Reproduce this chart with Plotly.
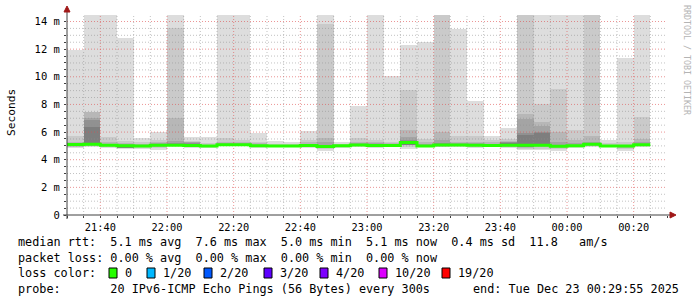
import numpy as np
import pandas as pd
import plotly.graph_objects as go

# ---------------- data ----------------
bin_start = pd.date_range("2025-12-22 21:30:00", periods=35, freq="5min")
bin_ms = 300000

rtt_max = [11.95, 15.2, 15.6, 12.83, 5.55, 5.98, 15.4, 5.62, 5.64, 15.8, 15.1, 5.96, 5.38, 5.28, 6.08,
           16.2, 5.26, 7.89, 15.3, 10.06, 12.30, 12.52, 16.0, 13.48, 8.25, 5.74, 6.30, 16.4, 15.2, 15.5,
           15.0, 16.8, 5.45, 11.35, 15.3]
rtt_hi2 = [5.72, 7.48, 5.62, 5.35, 5.25, 5.45, 13.55, 5.35, 5.20, 5.60, 5.45, 5.30, 5.15, 5.15, 5.40,
           13.82, 5.15, 5.60, 5.45, 5.30, 9.04, 5.50, 15.5, 5.72, 5.70, 5.40, 5.48, 16.0, 8.00, 9.10,
           6.15, 15.8, 5.20, 5.25, 7.08]
rtt_hi3 = [5.25, 7.45, 5.25, 5.20, 5.15, 5.25, 7.04, 5.30, 5.10, 5.30, 5.25, 5.20, 5.10, 5.10, 5.25,
           5.60, 5.10, 5.30, 5.30, 5.20, 6.15, 5.25, 5.98, 5.25, 5.30, 5.25, 5.35, 7.28, 6.70, 6.03,
           5.40, 5.72, 5.10, 5.10, 5.50]
rtt_hi4 = [5.20, 7.00, 5.15, 5.15, 5.10, 5.20, 5.35, 5.25, 5.05, 5.20, 5.20, 5.10, 5.05, 5.05, 5.15,
           5.30, 5.05, 5.20, 5.20, 5.10, 5.67, 5.15, 5.40, 5.20, 5.20, 5.15, 5.30, 6.95, 6.44, 5.30,
           5.20, 5.30, 5.05, 5.05, 5.25]
rtt_hi5 = [5.15, 6.90, 5.10, 5.10, 5.05, 5.10, 5.20, 5.20, 5.02, 5.15, 5.15, 5.05, 5.02, 5.02, 5.10,
           5.10, 5.03, 5.10, 5.10, 5.05, 5.45, 5.05, 5.20, 5.10, 5.10, 5.10, 5.25, 5.91, 6.03, 5.10,
           5.10, 5.20, 5.02, 5.02, 5.15]
rtt_hi6 = [5.12, 6.40, 5.06, 5.03, 5.02, 5.07, 5.06, 5.04, 5.01, 5.10, 5.10, 5.03, 5.02, 5.02, 5.05,
           4.97, 5.03, 5.08, 5.04, 5.04, 5.35, 5.02, 5.09, 5.08, 5.07, 5.04, 5.22, 5.79, 5.91, 4.99,
           5.03, 5.13, 5.02, 5.01, 5.11]
rtt_min = [4.83, 4.95, 4.85, 4.78, 4.75, 4.70, 4.98, 4.88, 4.85, 4.97, 4.97, 4.85, 4.92, 4.92, 4.88,
           4.63, 4.88, 4.92, 4.82, 4.90, 4.75, 4.90, 4.92, 4.93, 4.88, 4.90, 4.85, 4.68, 4.72, 4.63,
           4.88, 4.95, 4.90, 4.63, 4.95]
rtt_lo2 = [4.90, 5.00, 4.92, 4.85, 4.85, 4.82, 5.00, 4.92, 4.90, 5.00, 5.00, 4.90, 4.95, 4.95, 4.92,
           4.75, 4.93, 4.96, 4.90, 4.93, 4.95, 4.93, 4.95, 4.96, 4.92, 4.93, 4.92, 4.80, 4.80, 4.75,
           4.92, 4.98, 4.93, 4.75, 4.98]
rtt_lo3 = [4.95, 5.02, 4.96, 4.88, 4.90, 4.90, 5.00, 4.95, 4.93, 5.02, 5.02, 4.94, 4.96, 4.96, 4.96,
           4.82, 4.96, 5.00, 4.95, 4.96, 5.05, 4.96, 4.98, 5.00, 4.97, 4.96, 4.95, 4.88, 4.90, 4.85,
           4.95, 5.02, 4.96, 4.85, 5.02]
rtt_lo_inner = [5.05, 5.05, 5.00, 4.90, 4.96, 5.00, 5.00, 4.98, 4.96, 5.04, 5.04, 4.98, 4.97, 4.97, 5.00,
                4.88, 4.98, 5.02, 4.98, 4.98, 5.08, 4.97, 5.03, 5.02, 5.01, 4.98, 4.96, 4.95, 4.98, 4.92,
                4.97, 5.07, 4.97, 4.93, 5.05]
median_rtt = [5.10, 5.12, 5.04, 5.01, 5.00, 5.05, 5.04, 5.02, 4.99, 5.08, 5.08, 5.01, 5.00, 5.00, 5.03,
              4.95, 5.01, 5.06, 5.02, 5.02, 5.24, 5.00, 5.07, 5.06, 5.05, 5.02, 5.05, 5.05, 5.04, 4.97,
              5.01, 5.11, 5.00, 4.99, 5.09]

y_tickvals = [0, 2, 4, 6, 8, 10, 12, 14]
y_ticktext = ["0", "2 m", "4 m", "6 m", "8 m", "10 m", "12 m", "14 m"]

stats_rtt = "median rtt:  5.1 ms avg  7.6 ms max  5.0 ms min  5.1 ms now  0.4 ms sd  11.8   am/s"
stats_loss = "packet loss: 0.00 % avg  0.00 % max  0.00 % min  0.00 % now"
loss_labels = ["0", "1/20", "2/20", "3/20", "4/20", "10/20", "19/20"]
loss_colors = ["#26ff00", "#00b8ff", "#0059ff", "#5e00ff", "#7e00ff", "#dd00ff", "#ff0000"]
probe_text = "probe:       20 IPv6-ICMP Echo Pings (56 Bytes) every 300s"
end_text = "end: Tue Dec 23 00:29:55 2025"

# ---------------- geometry / style ----------------
W, H = 697, 297
L, R, T, B = 67, 30, 15, 82
PW, PH = W - L - R, H - T - B
Y_TOP = 14.47
x_lo = pd.Timestamp("2025-12-22 21:30:00")
x_hi = pd.Timestamp("2025-12-23 00:30:00")
MONO = "DejaVu Sans Mono"
band_colors = ["#dddddd", "#cacaca", "#b7b7b7", "#a4a4a4", "#919191", "#7e7e7e"]


def px(x):
    return (x - L) / PW


def py(y):
    return (T + PH - y) / PH


centers = bin_start + pd.Timedelta(seconds=150)
fig = go.Figure()

bands = [
    (rtt_min, rtt_max), (rtt_lo2, rtt_hi2), (rtt_lo3, rtt_hi3),
    (rtt_lo_inner, rtt_hi4), (rtt_lo_inner, rtt_hi5), (rtt_lo_inner, rtt_hi6),
]
for (lo, hi), col in zip(bands, band_colors):
    fig.add_trace(go.Bar(
        x=centers, base=lo, y=[h - l for l, h in zip(lo, hi)], width=bin_ms,
        marker=dict(color=col, line=dict(width=0)), hoverinfo="skip", showlegend=False,
    ))

# grid lines (drawn above the smoke, below the median line)
minor_col = "rgba(143,143,143,0.55)"
major_col = "rgba(222,79,79,0.6)"
vt = pd.date_range(x_lo + pd.Timedelta(minutes=5), x_hi - pd.Timedelta(minutes=5), freq="5min")
for is_major, col in [(False, minor_col), (True, major_col)]:
    xs, ys = [], []
    for t in vt:
        if (t.minute % 20 == 0) == is_major:
            xs += [t, t, None]
            ys += [0, Y_TOP, None]
    fig.add_trace(go.Scatter(x=xs, y=ys, mode="lines", hoverinfo="skip", showlegend=False,
                             line=dict(color=col, width=1, dash="1px,2px")))
hv = np.arange(0.5, 14.01, 0.5)
for is_major, col in [(False, minor_col), (True, major_col)]:
    xs, ys = [], []
    for v in hv:
        if (abs(v % 2) < 1e-9) == is_major:
            xs += [x_lo, x_hi, None]
            ys += [v, v, None]
    fig.add_trace(go.Scatter(x=xs, y=ys, mode="lines", hoverinfo="skip", showlegend=False,
                             line=dict(color=col, width=1, dash="1px,2px")))

# median line
mx = list(bin_start) + [bin_start[-1] + pd.Timedelta(minutes=5)]
my = list(median_rtt) + [median_rtt[-1]]
fig.add_trace(go.Scatter(x=mx, y=my, mode="lines", hoverinfo="skip", showlegend=False,
                         line=dict(color=loss_colors[0], width=3, shape="hv")))

axis_col = "#404040"
arrow_col = "#a01818"
shapes = [
    dict(type="line", xref="paper", yref="paper", x0=px(63), x1=px(671), y0=0, y1=0,
         line=dict(color=axis_col, width=1), layer="above"),
    dict(type="line", xref="paper", yref="paper", x0=0, x1=0, y0=py(219), y1=py(11),
         line=dict(color=axis_col, width=1), layer="above"),
    dict(type="path", xref="paper", yref="paper", layer="above",
         path=f"M {px(670)} {py(212)} L {px(676)} {py(215)} L {px(670)} {py(218)} Z",
         fillcolor=arrow_col, line=dict(color=arrow_col, width=1)),
    dict(type="path", xref="paper", yref="paper", layer="above",
         path=f"M {px(64)} {py(12)} L {px(67)} {py(6)} L {px(70)} {py(12)} Z",
         fillcolor=arrow_col, line=dict(color=arrow_col, width=1)),
]

nb = "\u00a0"
ann = []


def text(x, y, s, anchor="left", size=11.8, color="#000000", angle=0):
    ann.append(dict(x=px(x), y=py(y), xref="paper", yref="paper", text=s.replace(" ", nb),
                    showarrow=False, xanchor=anchor, yanchor="middle", textangle=angle,
                    font=dict(family=MONO, size=size, color=color)))


text(16, 242, stats_rtt)
text(16, 257.5, stats_loss)
text(16, 273, "loss color:")
box_x = [109, 147, 204, 264, 320, 379, 442]
for bx, lab, col in zip(box_x, loss_labels, loss_colors):
    shapes.append(dict(type="rect", xref="paper", yref="paper", x0=px(bx), x1=px(bx + 8),
                       y0=py(278), y1=py(268), fillcolor=col, line=dict(color="#000000", width=1)))
    text(bx + 14, 273, lab)
text(16, 289, probe_text)
text(681, 289, end_text, anchor="right")
text(11, 113, "Seconds", anchor="center", size=11.2, angle=-90)
text(687, 60, "RRDTOOL / TOBI OETIKER", anchor="center", size=8.3, color="#b4b4b4", angle=90)

fig.update_layout(
    width=W, height=H, margin=dict(l=L, r=R, t=T, b=B, pad=0),
    paper_bgcolor="white", plot_bgcolor="white", barmode="overlay", bargap=0,
    showlegend=False, shapes=shapes, annotations=ann,
    font=dict(family=MONO, size=10.3, color="#000000"),
)
fig.update_xaxes(
    type="date", range=[x_lo, x_hi], showgrid=False, zeroline=False, showline=False,
    tick0="2025-12-22 21:40:00", dtick=20 * 60 * 1000, tickformat="%H:%M",
    ticks="outside", ticklen=2, tickcolor=axis_col, ticklabelstandoff=1,
    minor=dict(dtick=bin_ms, ticks="outside", ticklen=2, tickcolor=axis_col, showgrid=False),
    tickfont=dict(family=MONO, size=10.3, color="#000000"),
)
fig.update_yaxes(
    range=[0, Y_TOP], showgrid=False, zeroline=False, showline=False,
    tickvals=y_tickvals, ticktext=y_ticktext,
    ticks="outside", ticklen=2, tickcolor=axis_col, ticklabelstandoff=2,
    minor=dict(dtick=0.5, ticks="outside", ticklen=2, tickcolor=axis_col, showgrid=False),
    tickfont=dict(family=MONO, size=10.5, color="#000000"),
)

fig.write_html("out.html")
